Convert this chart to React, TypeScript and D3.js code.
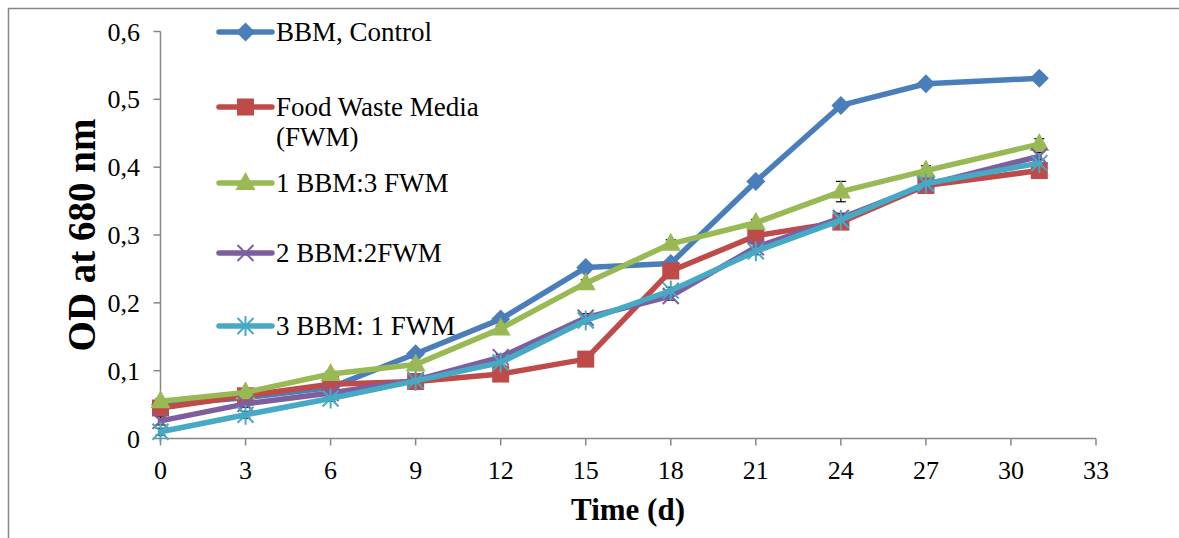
import React from "react";
import * as d3 from "d3";

const days = [0, 3, 6, 9, 12, 15, 18, 21, 24, 27, 31];
const seriesNames = ["BBM, Control", "Food Waste Media|(FWM)", "1 BBM:3 FWM", "2 BBM:2FWM", "3 BBM: 1 FWM"];
const bbmControl = [0.05, 0.06, 0.075, 0.125, 0.176, 0.252, 0.258, 0.379, 0.491, 0.523, 0.531];
const foodWaste = [0.045, 0.063, 0.08, 0.084, 0.095, 0.117, 0.247, 0.299, 0.319, 0.373, 0.395];
const bbm1fwm3 = [0.055, 0.068, 0.095, 0.109, 0.162, 0.229, 0.287, 0.318, 0.364, 0.395, 0.434];
const bbm2fwm2 = [0.026, 0.051, 0.067, 0.086, 0.12, 0.178, 0.21, 0.282, 0.325, 0.374, 0.416];
const bbm3fwm1 = [0.01, 0.035, 0.059, 0.085, 0.112, 0.174, 0.218, 0.276, 0.322, 0.376, 0.406];
const errControl = [0.002, 0.003, 0.003, 0.004, 0.004, 0.004, 0.004, 0.005, 0.004, 0.004, 0.004];
const errFood = [0.003, 0.003, 0.003, 0.003, 0.004, 0.004, 0.004, 0.004, 0.006, 0.004, 0.004];
const err13 = [0.004, 0.004, 0.004, 0.004, 0.004, 0.005, 0.006, 0.005, 0.015, 0.007, 0.008];
const err22 = [0.006, 0.005, 0.004, 0.004, 0.004, 0.006, 0.006, 0.005, 0.007, 0.005, 0.006];
const err31 = [0.005, 0.005, 0.004, 0.004, 0.004, 0.005, 0.005, 0.005, 0.005, 0.005, 0.005];
const xTicks = [0, 3, 6, 9, 12, 15, 18, 21, 24, 27, 30, 33];
const yTicks = [0, 0.1, 0.2, 0.3, 0.4, 0.5, 0.6];
const colors = ["#4A7EBB", "#BE4B48", "#98B954", "#7D5FA0", "#46AAC5"];
const markerKinds = ["diamond", "square", "triangle", "x", "star"];

const allValues = [bbmControl, foodWaste, bbm1fwm3, bbm2fwm2, bbm3fwm1];
const allErrors = [errControl, errFood, err13, err22, err31];

const x = d3.scaleLinear().domain([0, 33]).range([160.5, 1096]);
const y = d3.scaleLinear().domain([0, 0.6]).range([438.5, 31.5]);

const serif = "'Liberation Serif', 'Times New Roman', 'DejaVu Serif', serif";

function Marker({ kind, cx, cy, color }: { kind: string; cx: number; cy: number; color: string }) {
  if (kind === "diamond") {
    const r = 9.5;
    return <path d={`M${cx},${cy - r}L${cx + r},${cy}L${cx},${cy + r}L${cx - r},${cy}Z`} fill={color} />;
  }
  if (kind === "square") {
    const s = 8.5;
    return <rect x={cx - s} y={cy - s} width={2 * s} height={2 * s} fill={color} />;
  }
  if (kind === "triangle") {
    return <path d={`M${cx},${cy - 11}L${cx + 10},${cy + 7}L${cx - 10},${cy + 7}Z`} fill={color} />;
  }
  if (kind === "x") {
    const r = 8;
    return (
      <g stroke={color} strokeWidth={2}>
        <line x1={cx - r} y1={cy - r} x2={cx + r} y2={cy + r} />
        <line x1={cx - r} y1={cy + r} x2={cx + r} y2={cy - r} />
      </g>
    );
  }
  const r = 8;
  return (
    <g stroke={color} strokeWidth={2}>
      <line x1={cx - r} y1={cy - r} x2={cx + r} y2={cy + r} />
      <line x1={cx - r} y1={cy + r} x2={cx + r} y2={cy - r} />
      <line x1={cx} y1={cy - 10} x2={cx} y2={cy + 10} />
    </g>
  );
}

export default function App() {
  const line = d3
    .line<number>()
    .x((_, i) => x(days[i]))
    .y((v) => y(v));
  const axisColor = "#868686";
  const legendY = [32, 107, 183, 253, 326];
  const ts = { fontFamily: serif };

  return (
    <svg width={1179} height={538} style={{ position: "absolute", left: 0, top: 0, background: "#fff" }}>
      <rect x={8.5} y={8.5} width={1300} height={700} fill="#fff" stroke={axisColor} strokeWidth={1.5} />
      {/* axes */}
      <line x1={x(0)} x2={x(0)} y1={y(0.6)} y2={y(0)} stroke={axisColor} strokeWidth={1.5} />
      <line x1={x(0)} x2={x(33)} y1={y(0)} y2={y(0)} stroke={axisColor} strokeWidth={1.5} />
      {yTicks.map((t) => (
        <g key={`y${t}`}>
          <line x1={x(0) - 7} x2={x(0)} y1={y(t)} y2={y(t)} stroke={axisColor} strokeWidth={1.5} />
          <text x={140} y={y(t)} dy="0.35em" textAnchor="end" fontSize={26} style={ts}>
            {t === 0 ? "0" : d3.format(".1f")(t).replace(".", ",")}
          </text>
        </g>
      ))}
      {xTicks.map((t) => (
        <g key={`x${t}`}>
          <line x1={x(t)} x2={x(t)} y1={y(0)} y2={y(0) + 7} stroke={axisColor} strokeWidth={1.5} />
          <text x={x(t)} y={479} textAnchor="middle" fontSize={26} style={ts}>
            {t}
          </text>
        </g>
      ))}
      <text x={628} y={520} textAnchor="middle" fontSize={31} fontWeight="bold" style={ts}>
        Time (d)
      </text>
      <text transform={`translate(95,235) rotate(-90)`} textAnchor="middle" fontSize={39} fontWeight="bold" style={ts}>
        OD at 680 nm
      </text>
      {/* error bars */}
      {allValues.map((vals, si) => (
        <g key={`e${si}`} stroke="#000" strokeWidth={1.2}>
          {vals.map((v, i) => (
            <g key={i}>
              <line x1={x(days[i])} x2={x(days[i])} y1={y(v - allErrors[si][i])} y2={y(v + allErrors[si][i])} />
              <line x1={x(days[i]) - 5} x2={x(days[i]) + 5} y1={y(v + allErrors[si][i])} y2={y(v + allErrors[si][i])} />
              <line x1={x(days[i]) - 5} x2={x(days[i]) + 5} y1={y(v - allErrors[si][i])} y2={y(v - allErrors[si][i])} />
            </g>
          ))}
        </g>
      ))}
      {/* series */}
      {allValues.map((vals, si) => (
        <g key={`s${si}`}>
          <path d={line(vals) || ""} fill="none" stroke={colors[si]} strokeWidth={5.5} strokeLinejoin="round" strokeLinecap="round" />
          {vals.map((v, i) => (
            <Marker key={i} kind={markerKinds[si]} cx={x(days[i])} cy={y(v)} color={colors[si]} />
          ))}
        </g>
      ))}
      {/* legend */}
      {seriesNames.map((name, si) => {
        const lines = name.split("|");
        return (
          <g key={`l${si}`}>
            <line x1={219} x2={272} y1={legendY[si]} y2={legendY[si]} stroke={colors[si]} strokeWidth={5.5} strokeLinecap="round" />
            <Marker kind={markerKinds[si]} cx={245.5} cy={legendY[si]} color={colors[si]} />
            {lines.map((ln, li) => (
              <text key={li} x={276} y={legendY[si] + li * 30} dy="0.35em" fontSize={27} style={ts}>
                {ln}
              </text>
            ))}
          </g>
        );
      })}
    </svg>
  );
}
